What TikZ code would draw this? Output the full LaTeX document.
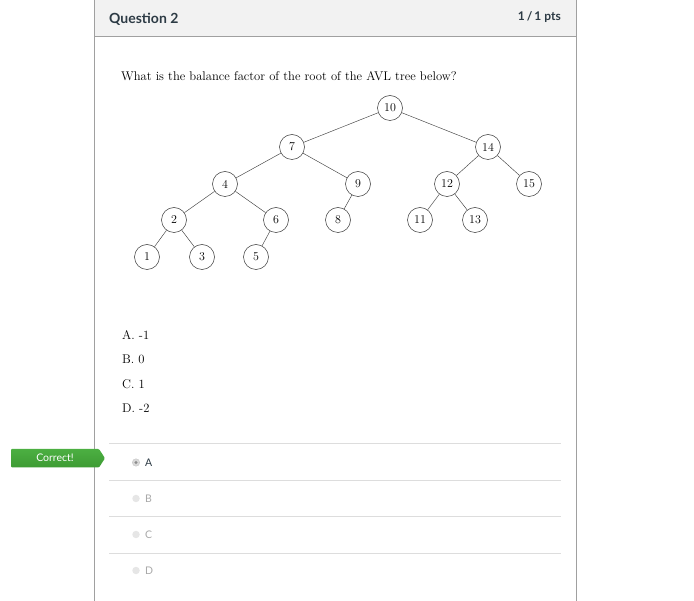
\documentclass[tikz,border=0pt]{standalone}
\usepackage{fontspec}
\newfontfamily\lato{Lato}
\usetikzlibrary{positioning}
\definecolor{headbg}  {HTML}{F2F2F2}
\definecolor{frame}   {HTML}{A0A0A0}
\definecolor{sepline} {HTML}{DDDDDD}
\definecolor{ink}     {HTML}{2D3B45}
\definecolor{okgreen} {HTML}{3D9B33}
\definecolor{oklight} {HTML}{4CAF42}
\definecolor{faded}   {HTML}{A8A8A8}
\definecolor{radio}   {HTML}{E6E6E6}
\tikzset{
  tnode/.style={circle, draw=black!80, line width=0.5pt, minimum size=25pt, inner sep=0pt,
                font=\fontsize{12}{14}\selectfont},
  tedge/.style={draw=black!75, line width=0.45pt},
  cmtext/.style={anchor=base west, inner sep=0pt, font=\fontsize{12.6}{15}\selectfont},
  choice/.style={anchor=west, inner sep=0pt, font=\lato\fontsize{10.5}{12}\selectfont}
}

\begin{document}
\begin{tikzpicture}[x=1pt, y=-1pt]
  \useasboundingbox (0,0) rectangle (694,601);
  \fill[headbg] (94,0) rectangle (576,36);
  \draw[frame, line width=0.8pt] (94,36) -- (576,36);
  \draw[frame, line width=0.9pt] (94,0) -- (94,601) (576,0) -- (576,601);
  \node[anchor=west, inner sep=0pt, text=ink, font=\lato\bfseries\fontsize{14}{16}\selectfont]
    (qtitle) at (109,19) {Question 2};
  \node[anchor=east, inner sep=0pt, text=ink, font=\lato\bfseries\fontsize{12}{14}\selectfont]
    (qpts) at (561,17) {1\,/\,1 pts};
  \node[cmtext] (qtext) at (121,81) {What is the balance factor of the root of the AVL tree below?};

  \foreach \n/\x/\y in {10/390/108, 7/292/147, 14/488/147, 4/225/184, 9/358/184, 12/447/184,
                        15/529/184, 2/174/220, 6/276/220, 8/338/220, 11/420/220, 13/475/220,
                        1/147/257, 3/202/257, 5/256/257}
    \node[tnode] (n\n) at (\x,\y) {\n};
  \foreach \a/\b in {10/7, 10/14, 7/4, 7/9, 4/2, 4/6, 2/1, 2/3, 6/5, 9/8, 14/12, 14/15, 12/11, 12/13}
    \draw[tedge] (n\a) -- (n\b);

  \foreach \l/\v [count=\i from 0] in {A/-1, B/0, C/1, D/-2}
    \node[cmtext] (opt\l) at (122,339.5+\i*24.5) {\l.\ \v};

  \foreach \y in {443.5, 480.5, 516.8, 553.3}
    \draw[sepline, line width=0.8pt] (109,\y) -- (561,\y);

  \shade[top color=oklight, bottom color=okgreen, rounded corners=1pt]
    (11,449) -- (99,449) -- (105,458.2) -- (99,467.5) -- (11,467.5) -- cycle;
  \node[text=white, inner sep=0pt, font=\lato\fontsize{10.5}{12}\selectfont] (badge) at (55,457.8) {Correct!};

  \node[circle, fill=black!15, draw=black!25, line width=0.3pt, minimum size=7.5pt, inner sep=0pt]
    (rA) at (136,462.5) {};
  \fill[black!45] (rA) circle (1.6pt);
  \node[choice, text=ink, right=5pt of rA] (lA) {A};
  \foreach \l/\y in {B/498.5, C/534.5, D/570.5} {
    \node[circle, fill=radio, minimum size=7.5pt, inner sep=0pt] (r\l) at (136,\y) {};
    \node[choice, text=faded, right=5pt of r\l] (l\l) {\l};
  }
\end{tikzpicture}
\end{document}
